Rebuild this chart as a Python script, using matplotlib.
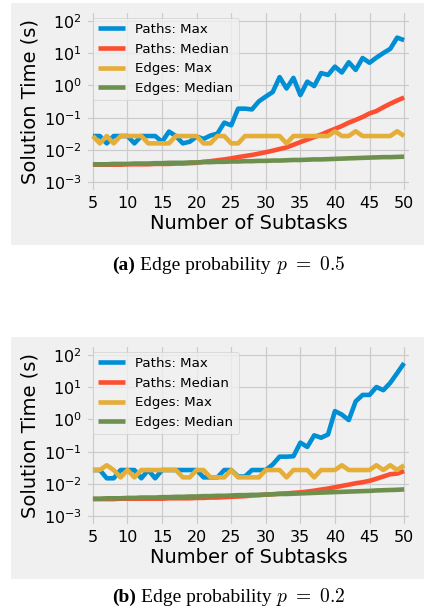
import matplotlib
matplotlib.use('Agg')
import matplotlib.pyplot as plt
from matplotlib.patches import Rectangle
from matplotlib.offsetbox import TextArea, HPacker, AnchoredOffsetbox

subtasks = [5, 6, 7, 8, 9, 10, 11, 12, 13, 14, 15, 16, 17, 18, 19, 20, 21, 22, 23, 24,
            25, 26, 27, 28, 29, 30, 31, 32, 33, 34, 35, 36, 37, 38, 39, 40, 41, 42, 43, 44,
            45, 46, 47, 48, 49, 50]

# (a) p = 0.5
paths_max_a = [0.027, 0.027, 0.016, 0.027, 0.027, 0.027, 0.016, 0.027, 0.027, 0.027,
               0.018, 0.037, 0.027, 0.016, 0.018, 0.026, 0.022, 0.028, 0.032, 0.07,
               0.058, 0.19, 0.19, 0.18, 0.32, 0.45, 0.62, 1.8, 0.8, 1.7,
               0.5, 1.3, 0.95, 2.4, 2.1, 3.8, 2.5, 5.2, 3.0, 7.0,
               5.0, 7.2, 10.0, 13.5, 30.0, 25.0]
paths_med_a = [0.0035, 0.0035, 0.0035, 0.0035, 0.0035, 0.0036, 0.0036, 0.0036, 0.0036, 0.0037,
               0.0037, 0.0037, 0.0038, 0.0038, 0.0039, 0.0040, 0.0043, 0.0045, 0.0048, 0.0051,
               0.0055, 0.0060, 0.0065, 0.0070, 0.0077, 0.0085, 0.0095, 0.0107, 0.012, 0.0145,
               0.0175, 0.021, 0.025, 0.030, 0.037, 0.045, 0.055, 0.070, 0.085, 0.105,
               0.135, 0.16, 0.21, 0.27, 0.34, 0.42]
edges_max_a = [0.027, 0.016, 0.027, 0.016, 0.027, 0.027, 0.027, 0.027, 0.016, 0.016,
               0.016, 0.016, 0.027, 0.027, 0.027, 0.027, 0.016, 0.016, 0.027, 0.027,
               0.016, 0.016, 0.027, 0.027, 0.027, 0.027, 0.027, 0.027, 0.016, 0.027,
               0.027, 0.027, 0.027, 0.027, 0.027, 0.038, 0.027, 0.027, 0.038, 0.027,
               0.027, 0.027, 0.027, 0.027, 0.038, 0.027]
edges_med_a = [0.0036, 0.0036, 0.0036, 0.0037, 0.0037, 0.0037, 0.0038, 0.0038, 0.0038, 0.0039,
               0.0039, 0.0040, 0.0040, 0.0040, 0.0041, 0.0041, 0.0042, 0.0042, 0.0043, 0.0043,
               0.0044, 0.0044, 0.0045, 0.0045, 0.0046, 0.0046, 0.0047, 0.0047, 0.0048, 0.0049,
               0.0049, 0.0050, 0.0051, 0.0051, 0.0052, 0.0053, 0.0054, 0.0055, 0.0056, 0.0057,
               0.0058, 0.0059, 0.0060, 0.0060, 0.0061, 0.0062]

# (b) p = 0.2
paths_max_b = [0.027, 0.027, 0.015, 0.015, 0.027, 0.027, 0.027, 0.015, 0.027, 0.015,
               0.027, 0.027, 0.027, 0.027, 0.027, 0.027, 0.016, 0.016, 0.016, 0.027,
               0.027, 0.017, 0.017, 0.027, 0.027, 0.027, 0.04, 0.07, 0.07, 0.072,
               0.19, 0.14, 0.32, 0.27, 0.34, 1.8, 1.4, 0.95, 3.6, 5.7,
               5.7, 10.0, 8.0, 13.5, 27.0, 55.0]
paths_med_b = [0.0034, 0.0034, 0.0034, 0.0034, 0.0035, 0.0035, 0.0035, 0.0035, 0.0035, 0.0035,
               0.0035, 0.0036, 0.0036, 0.0036, 0.0036, 0.0037, 0.0037, 0.0038, 0.0038, 0.0039,
               0.0040, 0.0041, 0.0042, 0.0044, 0.0045, 0.0047, 0.0048, 0.0050, 0.0051, 0.0053,
               0.0055, 0.0058, 0.0062, 0.0067, 0.0072, 0.0079, 0.0087, 0.0095, 0.0105, 0.0113,
               0.0125, 0.0145, 0.017, 0.020, 0.021, 0.025]
edges_max_b = [0.027, 0.027, 0.038, 0.027, 0.016, 0.027, 0.016, 0.027, 0.027, 0.027,
               0.027, 0.027, 0.027, 0.016, 0.016, 0.027, 0.027, 0.016, 0.016, 0.016,
               0.027, 0.016, 0.016, 0.016, 0.016, 0.027, 0.027, 0.027, 0.016, 0.027,
               0.027, 0.027, 0.016, 0.027, 0.027, 0.027, 0.038, 0.027, 0.027, 0.027,
               0.027, 0.038, 0.027, 0.038, 0.027, 0.038]
edges_med_b = [0.0035, 0.0035, 0.0036, 0.0036, 0.0036, 0.0037, 0.0037, 0.0038, 0.0038, 0.0038,
               0.0039, 0.0039, 0.0040, 0.0040, 0.0041, 0.0041, 0.0042, 0.0042, 0.0043, 0.0043,
               0.0044, 0.0045, 0.0045, 0.0046, 0.0046, 0.0047, 0.0048, 0.0049, 0.0049, 0.0050,
               0.0051, 0.0052, 0.0053, 0.0054, 0.0055, 0.0056, 0.0057, 0.0058, 0.0059, 0.0060,
               0.0061, 0.0063, 0.0064, 0.0065, 0.0066, 0.0068]

labels = ['Paths: Max', 'Paths: Median', 'Edges: Max', 'Edges: Median']
x_ticks = [5, 10, 15, 20, 25, 30, 35, 40, 45, 50]
y_ticks = [1e-3, 1e-2, 1e-1, 1e0, 1e1, 1e2]

W, H = 425, 608


def draw_panel(fig, top_px, series):
    # gray panel behind the whole subplot (style's figure background)
    fig.add_artist(Rectangle((11 / W, 1 - (top_px + 242) / H), 413 / W, 242 / H,
                             transform=fig.transFigure, facecolor='#f0f0f0',
                             edgecolor='none', zorder=0))
    ax = fig.add_axes([86 / W, 1 - (top_px + 189) / H, 325 / W, 181 / H])
    for vals, lab in zip(series, labels):
        ax.plot(subtasks, vals, label=lab, linewidth=3.3)
    ax.set_yscale('log')
    ax.set_xlim(4, 51)
    ax.set_ylim(5e-4, 2e2)
    ax.set_xticks(x_ticks)
    ax.set_yticks(y_ticks)
    ax.minorticks_off()
    ax.tick_params(labelsize=11.5, length=0, pad=3)
    ax.grid(True, linewidth=0.85)
    ax.set_xlabel('Number of Subtasks', fontsize=14, labelpad=2)
    ax.set_ylabel('Solution Time (s)', fontsize=14, labelpad=3)
    ax.legend(loc='upper left', fontsize=9.6)
    return ax


def add_caption(fig, y_px, tag, text, math):
    serif = ['Liberation Serif', 'DejaVu Serif']
    parts = [TextArea(tag, textprops=dict(family=serif, weight='bold', size=14)),
             TextArea(text, textprops=dict(family=serif, size=14)),
             TextArea(math, textprops=dict(size=14, math_fontfamily='cm'))]
    box = HPacker(children=parts, align='baseline', pad=0, sep=3.5)
    anchored = AnchoredOffsetbox(loc='center', child=box, pad=0, borderpad=0,
                                 frameon=False, bbox_to_anchor=(229 / W, 1 - y_px / H),
                                 bbox_transform=fig.transFigure)
    fig.add_artist(anchored)


if __name__ == '__main__':
    plt.style.use('fivethirtyeight')
    fig = plt.figure(figsize=(W / 100, H / 100), dpi=100, facecolor='white')

    draw_panel(fig, 3, [paths_max_a, paths_med_a, edges_max_a, edges_med_a])
    draw_panel(fig, 337, [paths_max_b, paths_med_b, edges_max_b, edges_med_b])

    add_caption(fig, 265, '(a)', 'Edge probability', r'$p\ =\ 0.5$')
    add_caption(fig, 597, '(b)', 'Edge probability', r'$p\ =\ 0.2$')

    fig.savefig('out.png', dpi=100, facecolor='white')
